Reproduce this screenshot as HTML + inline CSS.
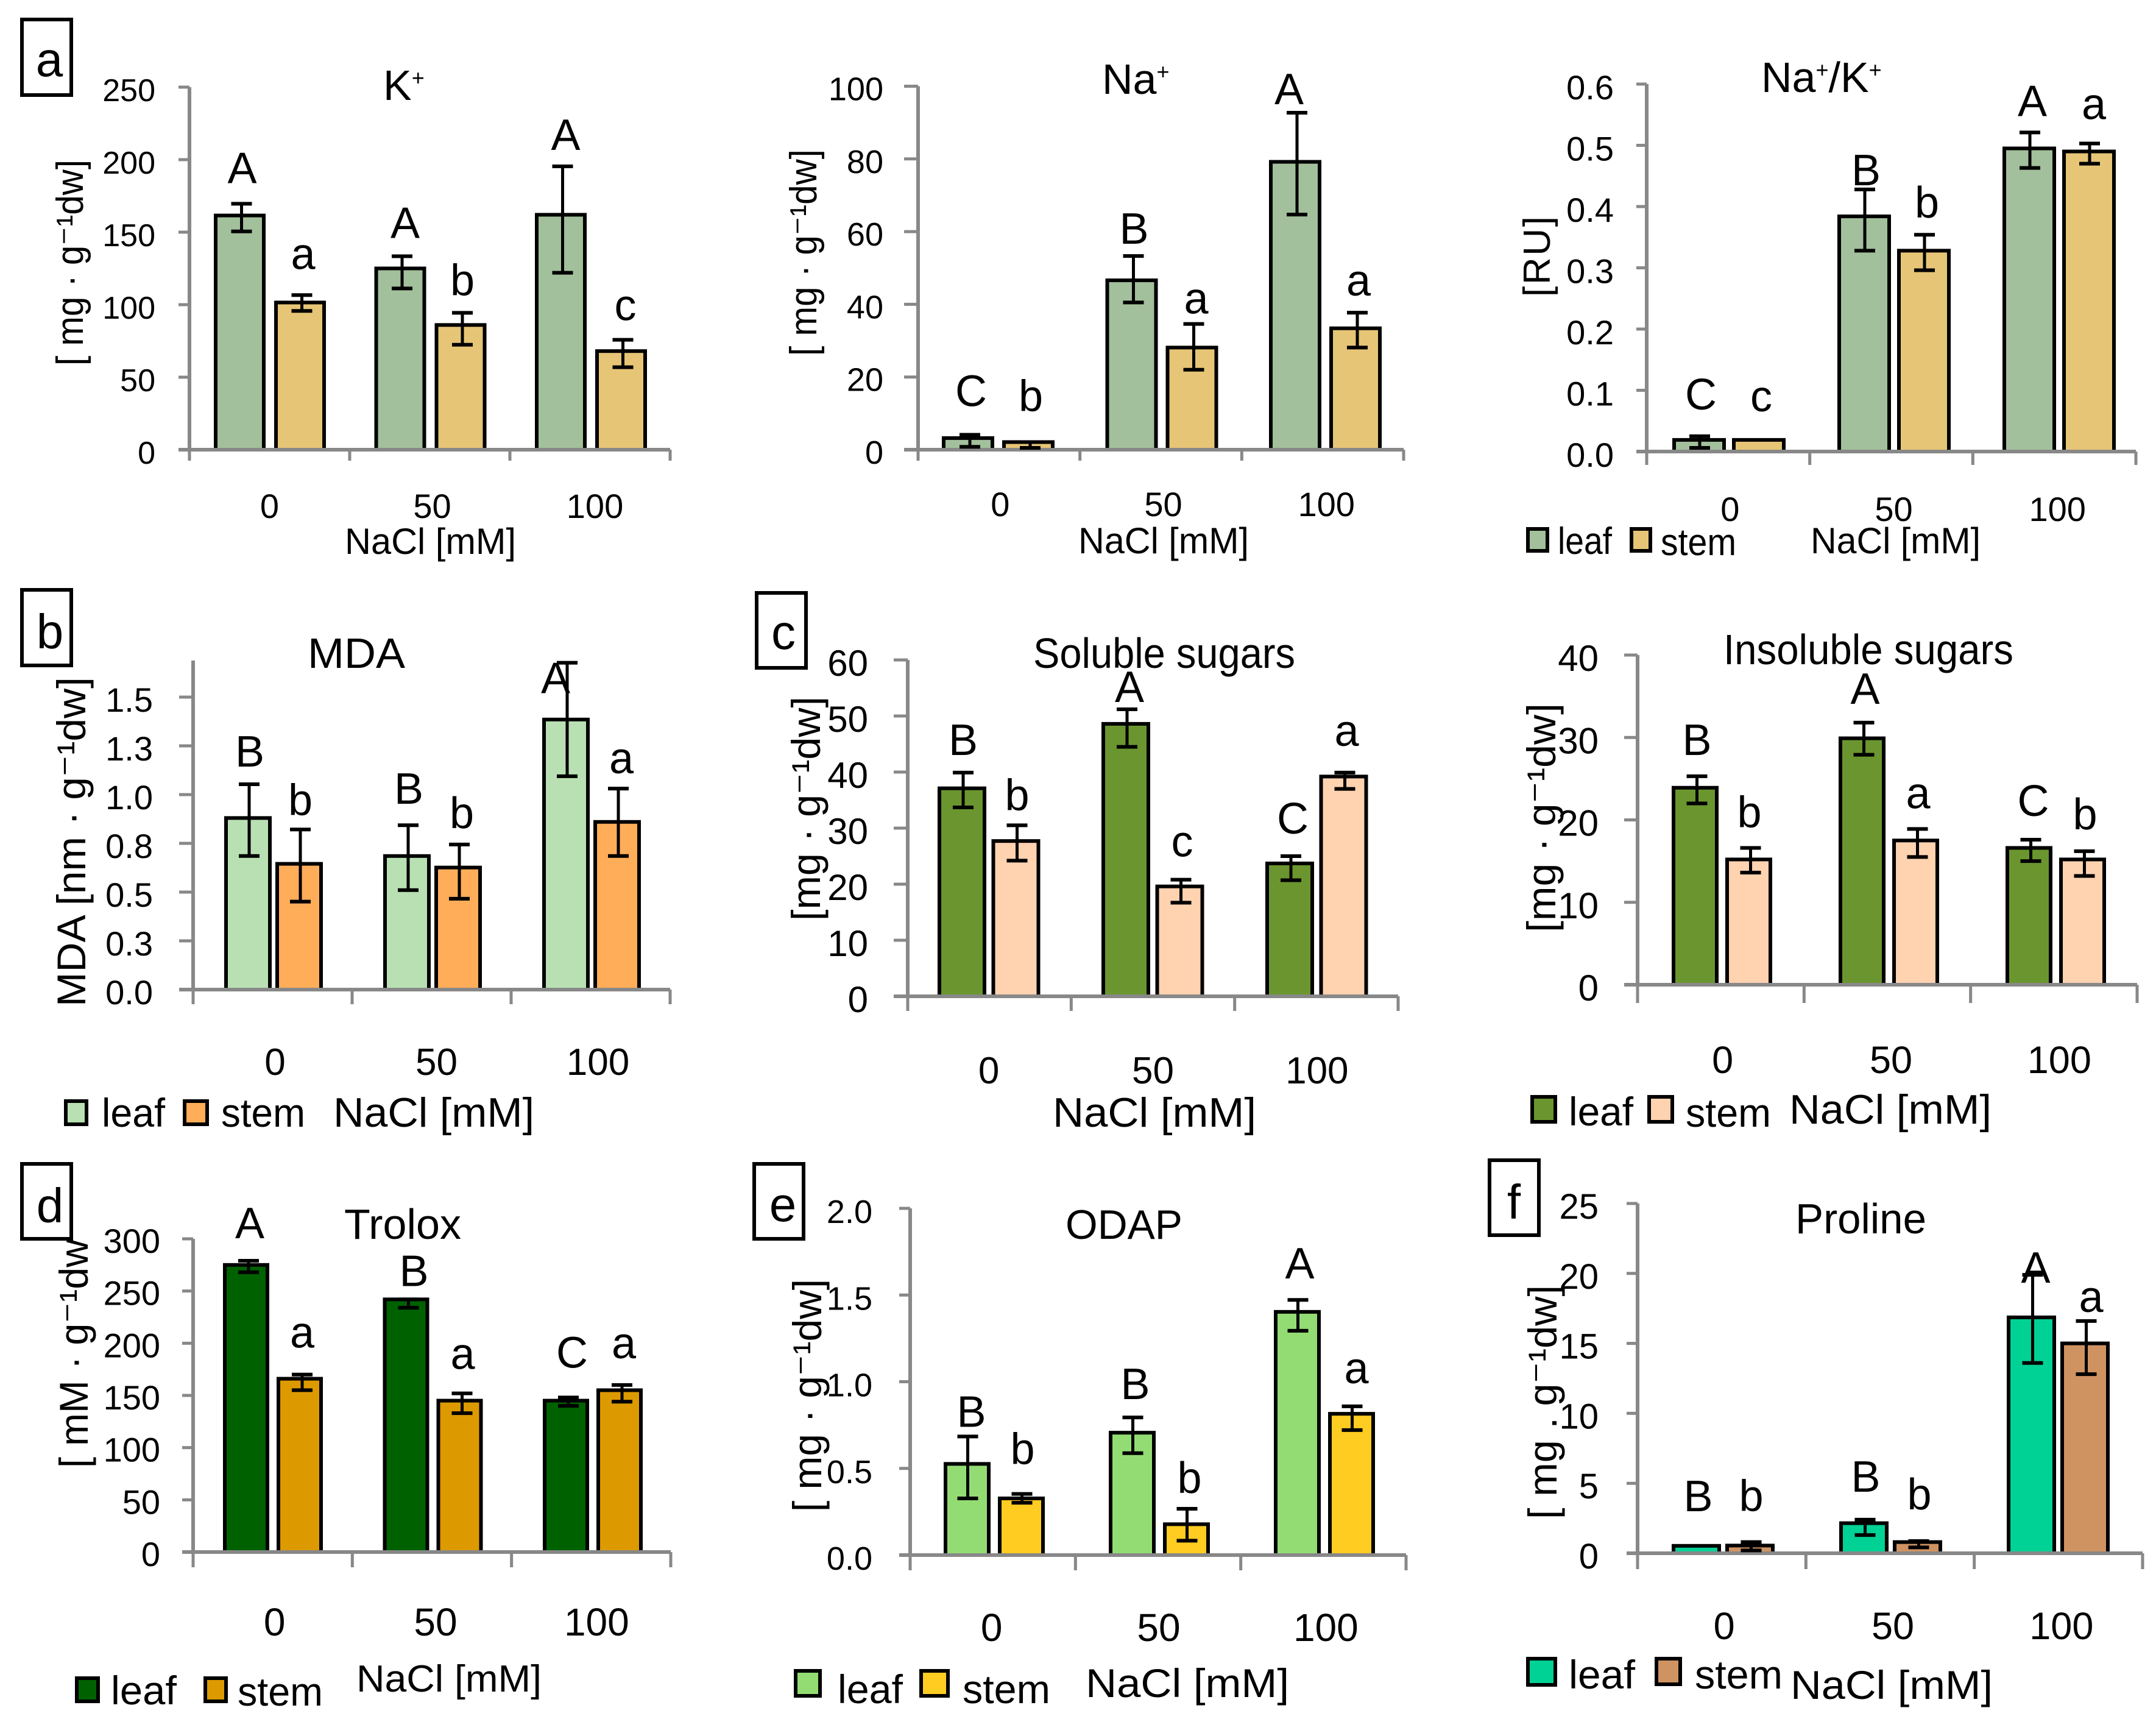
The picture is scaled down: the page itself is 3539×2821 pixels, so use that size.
<!DOCTYPE html>
<html lang="en">
<head>
<meta charset="utf-8">
<title>Salt stress bar chart panels</title>
<style>
html,body{margin:0;padding:0;background:#fff;}
svg{display:block;}
text{font-family:"Liberation Sans","DejaVu Sans",sans-serif;fill:#000;}
.box{fill:none;stroke:#000;stroke-width:6;}
.sw{stroke:#000;stroke-width:6;}
</style>
</head>
<body>
<svg id="fig" xmlns="http://www.w3.org/2000/svg" width="3539" height="2821" viewBox="2 1 3539 2821">
<rect x="0" y="0" width="3545" height="2825" fill="#fff"/>

<g id="p-k">
<rect class="box" x="38" y="33" width="81" height="124"/>
<text x="83" y="126" font-size="80" text-anchor="middle">a</text>
<text x="631" y="165" font-size="70">K<tspan dy="-24" font-size="36">+</tspan></text>
<text transform="translate(138,601) rotate(-90)" font-size="62" textLength="338" lengthAdjust="spacingAndGlyphs">[ mg · g⁻¹dw]</text>
<text x="568" y="910" font-size="60" textLength="281" lengthAdjust="spacingAndGlyphs">NaCl [mM]</text>
</g>

<g id="p-na">
<text x="1811" y="155" font-size="70">Na<tspan dy="-24" font-size="36">+</tspan></text>
<text transform="translate(1342,585) rotate(-90)" font-size="62" textLength="339" lengthAdjust="spacingAndGlyphs">[ mg · g⁻¹dw]</text>
<text x="1772" y="909" font-size="60" textLength="280" lengthAdjust="spacingAndGlyphs">NaCl [mM]</text>
</g>

<g id="p-ratio">
<text x="2893" y="152" font-size="70">Na<tspan dy="-24" font-size="36">+</tspan><tspan dy="24">/K</tspan><tspan dy="-24" font-size="36">+</tspan></text>
<text transform="translate(2546,488) rotate(-90)" font-size="62" textLength="132" lengthAdjust="spacing">[RU]</text>
<text x="2974" y="909" font-size="60" textLength="279" lengthAdjust="spacingAndGlyphs">NaCl [mM]</text>
<rect class="sw" x="2510" y="869" width="32" height="36" fill="#a2c09b"/>
<text x="2559" y="910" font-size="62" textLength="89" lengthAdjust="spacingAndGlyphs">leaf</text>
<rect class="sw" x="2680" y="869" width="31" height="36" fill="#e6c576"/>
<text x="2728" y="912" font-size="62" textLength="124" lengthAdjust="spacingAndGlyphs">stem</text>
</g>

<g id="p-mda">
<rect class="box" x="38" y="969" width="81" height="124"/>
<text x="84" y="1065" font-size="80" text-anchor="middle">b</text>
<text x="507" y="1097" font-size="70" textLength="160" lengthAdjust="spacingAndGlyphs">MDA</text>
<text transform="translate(142,1653) rotate(-90)" font-size="66" textLength="541" lengthAdjust="spacingAndGlyphs">MDA [nm · g⁻¹dw]</text>
<text x="549" y="1850" font-size="68" textLength="330" lengthAdjust="spacingAndGlyphs">NaCl [mM]</text>
<rect class="sw" x="110" y="1808" width="34" height="38" fill="#b9e0b3"/>
<text x="169" y="1850" font-size="66" textLength="104" lengthAdjust="spacingAndGlyphs">leaf</text>
<rect class="sw" x="305" y="1808" width="37" height="38" fill="#ffad59"/>
<text x="365" y="1850" font-size="66" textLength="138" lengthAdjust="spacingAndGlyphs">stem</text>
</g>

<g id="p-sol">
<rect class="box" x="1244" y="974" width="81" height="123"/>
<text x="1288" y="1066" font-size="80" text-anchor="middle">c</text>
<text x="1698" y="1097" font-size="70" textLength="430" lengthAdjust="spacingAndGlyphs">Soluble sugars</text>
<text transform="translate(1348,1512) rotate(-90)" font-size="66" textLength="368" lengthAdjust="spacingAndGlyphs">[mg · g⁻¹dw]</text>
<text x="1730" y="1850" font-size="68" textLength="334" lengthAdjust="spacingAndGlyphs">NaCl [mM]</text>
</g>

<g id="p-insol">
<text x="2831" y="1091" font-size="70" textLength="476" lengthAdjust="spacingAndGlyphs">Insoluble sugars</text>
<text transform="translate(2555,1531) rotate(-90)" font-size="66" textLength="376" lengthAdjust="spacingAndGlyphs">[mg · g⁻¹dw]</text>
<text x="2939" y="1845" font-size="68" textLength="332" lengthAdjust="spacingAndGlyphs">NaCl [mM]</text>
<rect class="sw" x="2517" y="1801" width="38" height="41" fill="#6b962f"/>
<text x="2577" y="1848" font-size="66" textLength="106" lengthAdjust="spacingAndGlyphs">leaf</text>
<rect class="sw" x="2709" y="1801" width="38" height="41" fill="#ffd2b0"/>
<text x="2769" y="1850" font-size="66" textLength="140" lengthAdjust="spacingAndGlyphs">stem</text>
</g>

<g id="p-trolox">
<rect class="box" x="38" y="1911" width="81" height="123"/>
<text x="84" y="2007" font-size="80" text-anchor="middle">d</text>
<text x="567" y="2034" font-size="70" textLength="192" lengthAdjust="spacingAndGlyphs">Trolox</text>
<text transform="translate(146,2410) rotate(-90)" font-size="66" textLength="376" lengthAdjust="spacingAndGlyphs">[ mM · g⁻¹dw</text>
<text x="587" y="2777" font-size="62" textLength="304" lengthAdjust="spacingAndGlyphs">NaCl [mM]</text>
<rect class="sw" x="128" y="2755" width="35" height="38" fill="#006100"/>
<text x="184" y="2798" font-size="66" textLength="108" lengthAdjust="spacingAndGlyphs">leaf</text>
<rect class="sw" x="339" y="2755" width="34" height="38" fill="#dd9a00"/>
<text x="392" y="2800" font-size="66" textLength="140" lengthAdjust="spacingAndGlyphs">stem</text>
</g>

<g id="p-odap">
<rect class="box" x="1240" y="1911" width="81" height="123"/>
<text x="1287" y="2005" font-size="80" text-anchor="middle">e</text>
<text x="1751" y="2034" font-size="68" textLength="192" lengthAdjust="spacingAndGlyphs">ODAP</text>
<text transform="translate(1350,2482) rotate(-90)" font-size="66" textLength="382" lengthAdjust="spacingAndGlyphs">[ mg · g⁻¹dw]</text>
<text x="1784" y="2786" font-size="66" textLength="334" lengthAdjust="spacingAndGlyphs">NaCl [mM]</text>
<rect class="sw" x="1308" y="2743" width="40" height="41" fill="#93dc73"/>
<text x="1377" y="2796" font-size="66" textLength="107" lengthAdjust="spacingAndGlyphs">leaf</text>
<rect class="sw" x="1514" y="2743" width="44" height="41" fill="#ffcc22"/>
<text x="1582" y="2796" font-size="66" textLength="144" lengthAdjust="spacingAndGlyphs">stem</text>
</g>

<g id="p-proline">
<rect class="box" x="2447" y="1905" width="81" height="123"/>
<text x="2487" y="2001" font-size="80" text-anchor="middle">f</text>
<text x="2949" y="2025" font-size="70" textLength="215" lengthAdjust="spacingAndGlyphs">Proline</text>
<text transform="translate(2557,2494) rotate(-90)" font-size="66" textLength="384" lengthAdjust="spacingAndGlyphs">[ mg . g⁻¹dw]</text>
<text x="2941" y="2789" font-size="66" textLength="332" lengthAdjust="spacingAndGlyphs">NaCl [mM]</text>
<rect class="sw" x="2510" y="2723" width="45" height="43" fill="#00d195"/>
<text x="2577" y="2772" font-size="66" textLength="109" lengthAdjust="spacingAndGlyphs">leaf</text>
<rect class="sw" x="2721" y="2723" width="39" height="42" fill="#cf9362"/>
<text x="2784" y="2772" font-size="66" textLength="144" lengthAdjust="spacingAndGlyphs">stem</text>
</g>
</svg>

<script>
const categories = ['0', '50', '100'];

const kTickValues = [0, 50, 100, 150, 200, 250];
const kTickLabels = ['0', '50', '100', '150', '200', '250'];
const kLeaf = [161.5, 125, 162];
const kStem = [101.5, 86, 68];
const kLeafHigh = [169.6, 133.4, 195.4];
const kLeafLow = [150.5, 111.2, 122];
const kStemHigh = [106.6, 94.4, 75.8];
const kStemLow = [95.7, 72.4, 56.9];
const kLeafLetters = ['A', 'A', 'A'];
const kStemLetters = ['a', 'b', 'c'];

const naTickValues = [0, 20, 40, 60, 80, 100];
const naTickLabels = ['0', '20', '40', '60', '80', '100'];
const naLeaf = [3.2, 46.6, 79.2];
const naStem = [2.1, 28.1, 33.4];
const naLeafHigh = [4.1, 53.3, 92.7];
const naLeafLow = [0.8, 40.5, 64.7];
const naStemHigh = [2.1, 34.6, 37.7];
const naStemLow = [0.5, 22, 28.1];
const naLeafLetters = ['C', 'B', 'A'];
const naStemLetters = ['b', 'a', 'a'];

const ratioTickValues = [0, 0.1, 0.2, 0.3, 0.4, 0.5, 0.6];
const ratioTickLabels = ['0.0', '0.1', '0.2', '0.3', '0.4', '0.5', '0.6'];
const ratioLeaf = [0.019, 0.384, 0.495];
const ratioStem = [0.019, 0.328, 0.49];
const ratioLeafHigh = [0.025, 0.428, 0.521];
const ratioLeafLow = [0.006, 0.328, 0.463];
const ratioStemHigh = [0.019, 0.354, 0.503];
const ratioStemLow = [0.019, 0.296, 0.47];
const ratioLeafLetters = ['C', 'B', 'A'];
const ratioStemLetters = ['c', 'b', 'a'];

const mdaTickValues = [0, 0.25, 0.5, 0.75, 1, 1.25, 1.5];
const mdaTickLabels = ['0.0', '0.3', '0.5', '0.8', '1.0', '1.3', '1.5'];
const mdaLeaf = [0.88, 0.685, 1.385];
const mdaStem = [0.645, 0.626, 0.86];
const mdaLeafHigh = [1.053, 0.843, 1.676];
const mdaLeafLow = [0.685, 0.51, 1.094];
const mdaStemHigh = [0.821, 0.744, 1.031];
const mdaStemLow = [0.451, 0.466, 0.685];
const mdaLeafLetters = ['B', 'B', 'A'];
const mdaStemLetters = ['b', 'b', 'a'];

const solTickValues = [0, 10, 20, 30, 40, 50, 60];
const solTickLabels = ['0', '10', '20', '30', '40', '50', '60'];
const solLeaf = [37.1, 48.6, 23.7];
const solStem = [27.7, 19.6, 39.2];
const solLeafHigh = [39.9, 51.2, 25];
const solLeafLow = [33.7, 44.5, 20.7];
const solStemHigh = [30.5, 20.8, 39.9];
const solStemLow = [24.2, 16.7, 37];
const solLeafLetters = ['B', 'A', 'C'];
const solStemLetters = ['b', 'c', 'a'];

const insolTickValues = [0, 10, 20, 30, 40];
const insolTickLabels = ['0', '10', '20', '30', '40'];
const insolLeaf = [23.9, 29.9, 16.6];
const insolStem = [15.2, 17.5, 15.2];
const insolLeafHigh = [25.3, 31.8, 17.6];
const insolLeafLow = [22, 27.9, 15];
const insolStemHigh = [16.6, 18.9, 16.2];
const insolStemLow = [13.6, 15.5, 13.2];
const insolLeafLetters = ['B', 'A', 'C'];
const insolStemLetters = ['b', 'a', 'b'];

const troloxTickValues = [0, 50, 100, 150, 200, 250, 300];
const troloxTickLabels = ['0', '50', '100', '150', '200', '250', '300'];
const troloxLeaf = [275, 242, 145];
const troloxStem = [166, 145, 155];
const troloxLeafHigh = [279, 242, 148];
const troloxLeafLow = [268, 234, 140];
const troloxStemHigh = [170, 152, 160];
const troloxStemLow = [155, 133, 144];
const troloxLeafLetters = ['A', 'B', 'C'];
const troloxStemLetters = ['a', 'a', 'a'];

const odapTickValues = [0, 0.5, 1, 1.5, 2];
const odapTickLabels = ['0.0', '0.5', '1.0', '1.5', '2.0'];
const odapLeaf = [0.526, 0.706, 1.403];
const odapStem = [0.327, 0.178, 0.815];
const odapLeafHigh = [0.684, 0.794, 1.472];
const odapLeafLow = [0.327, 0.588, 1.294];
const odapStemHigh = [0.353, 0.267, 0.858];
const odapStemLow = [0.302, 0.083, 0.721];
const odapLeafLetters = ['B', 'B', 'A'];
const odapStemLetters = ['b', 'b', 'a'];

const prolineTickValues = [0, 5, 10, 15, 20, 25];
const prolineTickLabels = ['0', '5', '10', '15', '20', '25'];
const prolineLeaf = [0.53, 2.15, 16.86];
const prolineStem = [0.55, 0.8, 15];
const prolineLeafHigh = [0.53, 2.4, 19.9];
const prolineLeafLow = [0.53, 1.3, 13.6];
const prolineStemHigh = [0.8, 0.87, 16.6];
const prolineStemLow = [0.2, 0.42, 12.8];
const prolineLeafLetters = ['B', 'B', 'A'];
const prolineStemLetters = ['b', 'b', 'a'];

const NS = 'http://www.w3.org/2000/svg';

function addLine(parent, name, x1, y1, x2, y2, color, width) {
  const el = document.createElementNS(NS, 'line');
  
  
  el.setAttribute('x1', x1);
  el.setAttribute('y1', y1);
  el.setAttribute('x2', x2);
  el.setAttribute('y2', y2);
  el.setAttribute('stroke', color);
  el.setAttribute('stroke-width', width);
  parent.appendChild(el);
}

function addBar(parent, name, x, y, w, h, fill) {
  const el = document.createElementNS(NS, 'rect');
  
  
  el.setAttribute('x', x + 3);
  el.setAttribute('y', y);
  el.setAttribute('width', w - 6);
  el.setAttribute('height', h);
  el.setAttribute('fill', fill);
  el.setAttribute('stroke', '#000');
  el.setAttribute('stroke-width', 6);
  parent.appendChild(el);
}

function addLabel(parent, name, x, y, str, size, anchor) {
  const el = document.createElementNS(NS, 'text');
  
  
  el.setAttribute('x', x);
  el.setAttribute('y', y);
  el.setAttribute('font-size', size);
  el.setAttribute('text-anchor', anchor);
  el.textContent = str;
  parent.appendChild(el);
}

function drawPanel(p) {
  const g = document.getElementById(p.id);
  const marks = document.createElementNS(NS, 'g');
  
  
  g.insertBefore(marks, g.firstChild);

  const yOf = v => p.y0 - (v / p.refValue) * (p.y0 - p.refY);
  const catW = (p.xEnd - p.x0) / categories.length;
  const groupX = i => p.x0 + p.barOffset + i * p.groupStep;

  categories.forEach((c, i) => {
    addBar(marks, 'bar-leaf-' + c, groupX(i), yOf(p.leaf[i]), p.barW, p.y0 - yOf(p.leaf[i]), p.leafColor);
    addBar(marks, 'bar-stem-' + c, groupX(i) + p.stemDelta, yOf(p.stem[i]), p.barW, p.y0 - yOf(p.stem[i]), p.stemColor);
  });

  addLine(marks, 'y-axis-line', p.x0, p.axisTop, p.x0, p.y0, '#888888', 6);
  addLine(marks, 'x-axis-line', p.x0 - p.tickLen, p.y0, p.xEnd, p.y0, '#888888', 6);
  for (let i = 0; i <= categories.length; i++) {
    addLine(marks, 'x-axis-tick', p.x0 + i * catW, p.y0, p.x0 + i * catW, p.y0 + p.tickDown, '#888888', 5);
  }
  p.tickValues.forEach((v, i) => {
    if (v !== 0) addLine(marks, 'y-axis-tick', p.x0 - p.tickLen, yOf(v), p.x0, yOf(v), '#888888', 5);
    addLabel(marks, 'y-tick-label', p.tickRight, yOf(v) + p.tickDy, p.tickLabels[i], p.tickSize, 'end');
  });

  categories.forEach((c, i) => {
    addLabel(marks, 'x-tick-label', p.x0 + (i + 0.5) * catW + p.xShift + p.xShiftStep * i, p.xLabelY, c, p.xSize, 'middle');
    const series = [
      { name: 'leaf', x: groupX(i), hi: p.leafHigh[i], lo: p.leafLow[i], letter: p.leafLetters[i], gap: p.leafGap[i], dx: p.leafDx },
      { name: 'stem', x: groupX(i) + p.stemDelta, hi: p.stemHigh[i], lo: p.stemLow[i], letter: p.stemLetters[i], gap: p.stemGap[i], dx: p.stemDx }
    ];
    series.forEach(s => {
      const cx = s.x + p.barW / 2 + p.errDx;
      if (s.hi !== s.lo) {
        addLine(marks, 'error-bar-' + s.name + '-' + c, cx, yOf(s.hi), cx, yOf(s.lo), '#000', 5);
        addLine(marks, 'error-cap-' + s.name + '-' + c, cx - 17, yOf(s.hi), cx + 17, yOf(s.hi), '#000', 6);
        addLine(marks, 'error-cap-' + s.name + '-' + c, cx - 17, yOf(s.lo), cx + 17, yOf(s.lo), '#000', 6);
      }
      addLabel(marks, 'significance-letter-' + s.name + '-' + c, s.x + p.barW / 2 + s.dx[i], yOf(s.hi) - s.gap, s.letter, 72, 'middle');
    });
  });
}

drawPanel({ id: 'p-k', x0: 313, xEnd: 1102, y0: 739, refValue: 250, refY: 144, axisTop: 144, tickLen: 18, tickDown: 18, tickRight: 257, tickDy: 23, tickSize: 52, xLabelY: 851, xSize: 56, xShift: 0, xShiftStep: 4, barOffset: 40, groupStep: 263.5, barW: 85, stemDelta: 99, errDx: 3, leafDx: [4, 8, 8], stemDx: [5, 3, 7], leafGap: [34, 30, 27], stemGap: [43, 29, 32], tickValues: kTickValues, tickLabels: kTickLabels, leaf: kLeaf, stem: kStem, leafHigh: kLeafHigh, leafLow: kLeafLow, stemHigh: kStemHigh, stemLow: kStemLow, leafLetters: kLeafLetters, stemLetters: kStemLetters, leafColor: '#a2c09b', stemColor: '#e6c576' });

drawPanel({ id: 'p-na', x0: 1509, xEnd: 2306, y0: 739, refValue: 100, refY: 142.5, axisTop: 142.5, tickLen: 23, tickDown: 18, tickRight: 1452, tickDy: 23, tickSize: 54, xLabelY: 848, xSize: 56, xShift: 2, xShiftStep: 2, barOffset: 39, groupStep: 268.5, barW: 86, stemDelta: 99, errDx: 3, leafDx: [5, 4, -10], stemDx: [4, 7, 5], leafGap: [47, 20, 14], stemGap: [51, 17, 28], tickValues: naTickValues, tickLabels: naTickLabels, leaf: naLeaf, stem: naStem, leafHigh: naLeafHigh, leafLow: naLeafLow, stemHigh: naStemHigh, stemLow: naStemLow, leafLetters: naLeafLetters, stemLetters: naStemLetters, leafColor: '#a2c09b', stemColor: '#e6c576' });

drawPanel({ id: 'p-ratio', x0: 2705, xEnd: 3508, y0: 742, refValue: 0.6, refY: 139, axisTop: 139, tickLen: 17, tickDown: 22, tickRight: 2651, tickDy: 25, tickSize: 56, xLabelY: 856, xSize: 56, xShift: 3, xShiftStep: 1, barOffset: 42, groupStep: 271, barW: 88, stemDelta: 98, errDx: 1, leafDx: [3, 3, 5], stemDx: [4, 5, 8], leafGap: [44, 7, 27], stemGap: [47, 28, 40], tickValues: ratioTickValues, tickLabels: ratioTickLabels, leaf: ratioLeaf, stem: ratioStem, leafHigh: ratioLeafHigh, leafLow: ratioLeafLow, stemHigh: ratioStemHigh, stemLow: ratioStemLow, leafLetters: ratioLeafLetters, stemLetters: ratioStemLetters, leafColor: '#a2c09b', stemColor: '#e6c576' });

drawPanel({ id: 'p-mda', x0: 319, xEnd: 1102, y0: 1625, refValue: 1.5, refY: 1145, axisTop: 1085, tickLen: 23, tickDown: 24, tickRight: 253, tickDy: 24, tickSize: 56, xLabelY: 1765, xSize: 62, xShift: 4, xShiftStep: 4, barOffset: 51, groupStep: 261, barW: 78, stemDelta: 84, errDx: 2, leafDx: [3, 3, -17], stemDx: [2, 6, 7], leafGap: [29, 35, -50], stemGap: [24, 27, 25], tickValues: mdaTickValues, tickLabels: mdaTickLabels, leaf: mdaLeaf, stem: mdaStem, leafHigh: mdaLeafHigh, leafLow: mdaLeafLow, stemHigh: mdaStemHigh, stemLow: mdaStemLow, leafLetters: mdaLeafLetters, stemLetters: mdaStemLetters, leafColor: '#b9e0b3', stemColor: '#ffad59' });

drawPanel({ id: 'p-sol', x0: 1492, xEnd: 2297, y0: 1636, refValue: 60, refY: 1084, axisTop: 1084, tickLen: 23, tickDown: 24, tickRight: 1427, tickDy: 26, tickSize: 60, xLabelY: 1779, xSize: 62, xShift: -1, xShiftStep: 1, barOffset: 49, groupStep: 269, barW: 80, stemDelta: 88.5, errDx: 2, leafDx: [2, 6, 5], stemDx: [2, 4, 5], leafGap: [29, 12, 37], stemGap: [25, 38, 44], tickValues: solTickValues, tickLabels: solTickLabels, leaf: solLeaf, stem: solStem, leafHigh: solLeafHigh, leafLow: solLeafLow, stemHigh: solStemHigh, stemLow: solStemLow, leafLetters: solLeafLetters, stemLetters: solStemLetters, leafColor: '#6b962f', stemColor: '#ffd2b0' });

drawPanel({ id: 'p-insol', x0: 2690, xEnd: 3510, y0: 1617, refValue: 40, refY: 1076, axisTop: 1076, tickLen: 22, tickDown: 30, tickRight: 2626, tickDy: 26, tickSize: 60, xLabelY: 1762, xSize: 63, xShift: 3, xShiftStep: 3, barOffset: 56, groupStep: 274, barW: 77, stemDelta: 88, errDx: 3, leafDx: [3, 5, 7], stemDx: [1, 4, 4], leafGap: [35, 31, 39], stemGap: [34, 34, 36], tickValues: insolTickValues, tickLabels: insolTickLabels, leaf: insolLeaf, stem: insolStem, leafHigh: insolLeafHigh, leafLow: insolLeafLow, stemHigh: insolStemHigh, stemLow: insolStemLow, leafLetters: insolLeafLetters, stemLetters: insolStemLetters, leafColor: '#6b962f', stemColor: '#ffd2b0' });

drawPanel({ id: 'p-trolox', x0: 319, xEnd: 1103, y0: 2548, refValue: 300, refY: 2034, axisTop: 2034, tickLen: 18, tickDown: 25, tickRight: 265, tickDy: 23, tickSize: 56, xLabelY: 2685, xSize: 64, xShift: 3, xShiftStep: 3, barOffset: 49, groupStep: 262.5, barW: 76, stemDelta: 88, errDx: 4, leafDx: [6, 13, 10], stemDx: [4, 5, 7], leafGap: [37, 22, 49], stemGap: [44, 40, 44], tickValues: troloxTickValues, tickLabels: troloxTickLabels, leaf: troloxLeaf, stem: troloxStem, leafHigh: troloxLeafHigh, leafLow: troloxLeafLow, stemHigh: troloxStemHigh, stemLow: troloxStemLow, leafLetters: troloxLeafLetters, stemLetters: troloxStemLetters, leafColor: '#006100', stemColor: '#dd9a00' });

drawPanel({ id: 'p-odap', x0: 1496, xEnd: 2310, y0: 2553, refValue: 2, refY: 1984, axisTop: 1984, tickLen: 18, tickDown: 25, tickRight: 1434, tickDy: 24, tickSize: 54, xLabelY: 2694, xSize: 64, xShift: -2, xShiftStep: 3, barOffset: 55, groupStep: 271, barW: 77, stemDelta: 89, errDx: 1, leafDx: [7, 5, 4], stemDx: [2, 5, 8], leafGap: [16, 30, 35], stemGap: [49, 26, 38], tickValues: odapTickValues, tickLabels: odapTickLabels, leaf: odapLeaf, stem: odapStem, leafHigh: odapLeafHigh, leafLow: odapLeafLow, stemHigh: odapStemHigh, stemLow: odapStemLow, leafLetters: odapLeafLetters, stemLetters: odapStemLetters, leafColor: '#93dc73', stemColor: '#ffcc22' });

drawPanel({ id: 'p-proline', x0: 2690, xEnd: 3519, y0: 2550, refValue: 25, refY: 1976, axisTop: 1976, tickLen: 18, tickDown: 26, tickRight: 2626, tickDy: 25, tickSize: 58, xLabelY: 2691, xSize: 63, xShift: 4, xShiftStep: 0.5, barOffset: 56, groupStep: 275, barW: 81, stemDelta: 88, errDx: 2, leafDx: [3, 3, 7], stemDx: [2, 3, 10], leafGap: [57, 46, -13], stemGap: [51, 52, 15], tickValues: prolineTickValues, tickLabels: prolineTickLabels, leaf: prolineLeaf, stem: prolineStem, leafHigh: prolineLeafHigh, leafLow: prolineLeafLow, stemHigh: prolineStemHigh, stemLow: prolineStemLow, leafLetters: prolineLeafLetters, stemLetters: prolineStemLetters, leafColor: '#00d195', stemColor: '#cf9362' });
</script>
</body>
</html>
